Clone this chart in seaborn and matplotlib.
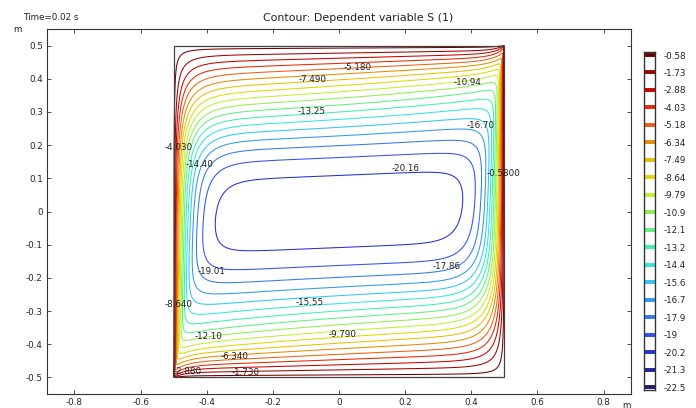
import numpy as np
import matplotlib
matplotlib.use("Agg")
import matplotlib.pyplot as plt
from matplotlib.patches import Rectangle
import seaborn as sns

# ---------------- data ----------------
levels = [-0.58, -1.73, -2.88, -4.03, -5.18, -6.34, -7.49, -8.64, -9.79, -10.94,
          -12.10, -13.25, -14.40, -15.55, -16.70, -17.86, -19.01, -20.16, -21.31, -22.47]
cbar_labels = ["-0.58", "-1.73", "-2.88", "-4.03", "-5.18", "-6.34", "-7.49", "-8.64",
               "-9.79", "-10.9", "-12.1", "-13.2", "-14.4", "-15.6", "-16.7", "-17.9",
               "-19", "-20.2", "-21.3", "-22.5"]
level_colors = ["#6e0000", "#a00000", "#cc0000", "#e82800", "#f06010", "#e88c00",
                "#e8c000", "#dcdc00", "#c0f030", "#90f050", "#60f080", "#40f0b0",
                "#30e8e0", "#30c8f0", "#3098f0", "#3478f0", "#3050f0", "#2430d0",
                "#20209c", "#1c1c6c"]
x_ticks = [-0.8, -0.6, -0.4, -0.2, 0, 0.2, 0.4, 0.6, 0.8]
y_ticks = [-0.5, -0.4, -0.3, -0.2, -0.1, 0, 0.1, 0.2, 0.3, 0.4, 0.5]
# inline contour labels: (x, y, level)
label_x = [0.057, -0.081, 0.39, -0.082, 0.427, -0.484, -0.423, 0.20, 0.496,
           -0.387, 0.324, -0.484, -0.088, -0.396, 0.012, -0.315, -0.457, -0.281]
label_y = [0.434, 0.398, 0.388, 0.302, 0.259, 0.193, 0.142, 0.13, 0.114,
           -0.181, -0.166, -0.280, -0.274, -0.377, -0.370, -0.437, -0.482, -0.485]
label_lev = [-5.18, -7.49, -10.94, -13.25, -16.70, -4.03, -14.40, -20.16, -0.58,
             -19.01, -17.86, -8.64, -15.55, -12.10, -9.79, -6.34, -2.88, -1.73]

# domain and model of the field S (boundary-layer shaped bowl)
dom_min, dom_max = -0.5, 0.5
S_depth = 21.0
side_delta, side_slope = 0.038, 0.7
wall_delta0, wall_slope = 0.275, 0.20
core_delta0, core_slope = 0.335, 0.03
blend_len = 0.2
corner_len = 0.03
prof_n = 2.5

# ---------------- field ----------------
g = np.linspace(dom_min, dom_max, 801)
X, Y = np.meshgrid(g, g)
pl = X - dom_min
pr = dom_max - X
qb = Y - dom_min
qt = dom_max - Y


def vprof(d, delta):
    z = np.clip(d, 0, None) / delta
    return np.tanh(z ** prof_n) ** (1.0 / prof_n)


def blend(d, dw, di):
    w = np.exp(-(d / blend_len) ** 2)
    return di + (dw - di) * w


def corner(p):
    return 1 - np.exp(-np.clip(p, 1e-6, None) / corner_len)


dT = blend(qt, wall_delta0 - wall_slope * X, core_delta0 - core_slope * X) * corner(pr)
dB = blend(qb, wall_delta0 + wall_slope * X, core_delta0 + core_slope * X) * corner(pl)
dL = side_delta * (1 + side_slope * Y) * corner(qb)
dR = side_delta * (1 - side_slope * Y) * corner(qt)
fL = 1 - np.exp(-pl / dL)
fR = 1 - np.exp(-pr / dR)
S = -S_depth * vprof(qt, dT) * vprof(qb, dB) * fL * fR

# ---------------- plot ----------------
sns.set_theme(style="ticks")
plt.rcParams['font.family'] = ['DejaVu Sans']
fs = 6.3
tc = "#222222"
pal = sns.color_palette(level_colors)

fig = plt.figure(figsize=(6.96, 4.08), dpi=100)
ax = fig.add_axes([47 / 696, 1 - 394 / 408, (631 - 47) / 696, (394 - 29) / 408])

order = np.argsort(levels)
lev_asc = [levels[i] for i in order]
col_asc = [pal[i] for i in order]
ax.contour(X, Y, S, levels=lev_asc, colors=col_asc, linewidths=0.75)
ax.add_patch(Rectangle((dom_min, dom_min), dom_max - dom_min, dom_max - dom_min,
                       fill=False, ec="#404040", lw=0.9, zorder=3))
for lx, ly, lv in zip(label_x, label_y, label_lev):
    ax.text(lx, ly, "{:#.4g}".format(lv), fontsize=fs, color=tc, ha="center",
            va="center", zorder=5)

ax.set_xlim(-0.883, 0.883)
ax.set_ylim(-0.55, 0.55)
ax.set_xticks(x_ticks)
ax.set_xticklabels([f"{t:g}" for t in x_ticks])
ax.set_yticks(y_ticks)
ax.set_yticklabels([f"{t:g}" for t in y_ticks])
ax.tick_params(direction="in", length=3, width=0.6, colors="#333333",
               labelcolor=tc, labelsize=fs, top=True, right=True, pad=3)
for sp in ax.spines.values():
    sp.set_color("#333333")
    sp.set_linewidth(0.8)

# colour legend
cax = fig.add_axes([644 / 696, 1 - 390 / 408, 11 / 696, 338 / 408])
idx = np.arange(len(levels))
cax.hlines(idx, 0, 1, colors=pal, lw=2.8)
cax.set_xlim(0, 1)
cax.set_ylim(19.17, -0.172)
cax.set_xticks([])
cax.set_yticks(idx)
cax.set_yticklabels(cbar_labels)
cax.tick_params(axis="y", direction="in", length=2, width=1, colors="#111111",
                labelcolor=tc, labelsize=fs, left=True, right=True,
                labelleft=False, labelright=True, pad=6.5)
for sp in cax.spines.values():
    sp.set_color("#333333")
    sp.set_linewidth(1.0)

fig.text(23 / 696, 1 - 18 / 408, "Time=0.02 s", fontsize=fs, color=tc, va="center")
fig.text(358 / 696, 1 - 18 / 408, "Contour: Dependent variable S (1)", fontsize=7.9,
         color=tc, va="center", ha="center")
fig.text(17 / 696, 1 - 30 / 408, "m", fontsize=fs, color=tc, va="center", ha="center")
fig.text(626 / 696, 1 - 405 / 408, "m", fontsize=fs, color=tc, va="center", ha="center")

fig.savefig("out.png", dpi=100)
